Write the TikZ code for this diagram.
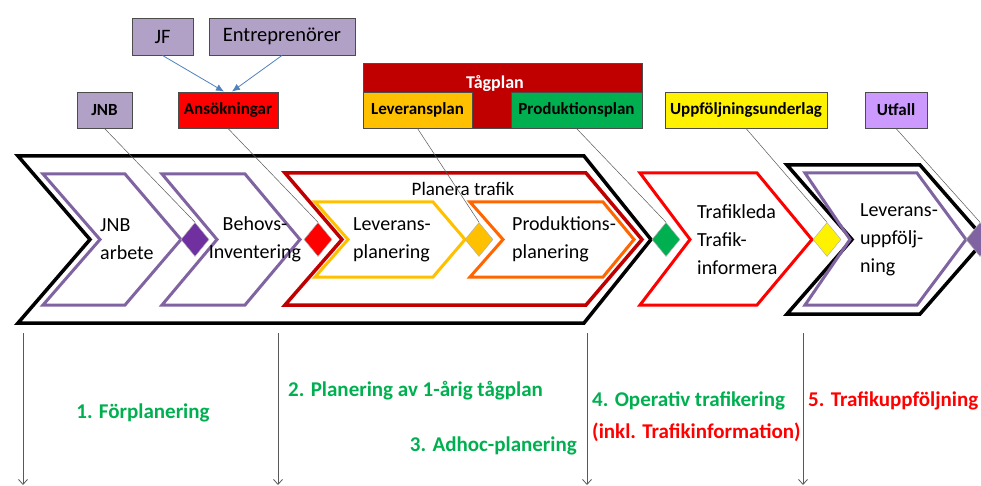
\documentclass[tikz,border=0pt]{standalone}
\usepackage{fontspec}
\setmainfont{Carlito}
\usetikzlibrary{shapes.geometric,arrows.meta}
\definecolor{boxpurple}{HTML}{B2A1C7}
\definecolor{linepurple}{HTML}{8064A2}
\definecolor{darkpurple}{HTML}{7030A0}
\definecolor{utfallpurple}{HTML}{CC99FF}
\definecolor{darkred}{HTML}{C00000}
\definecolor{amber}{HTML}{FFC000}
\definecolor{orangeline}{HTML}{FF6600}
\definecolor{prodgreen}{HTML}{00B050}
\definecolor{arrowblue}{HTML}{4F81BD}
\begin{document}
\begin{tikzpicture}[x=1pt,y=-1pt,
  topbox/.style={draw=black!70, line width=0.9pt, inner sep=0pt, minimum height=36pt, font=\fontsize{17}{19}\selectfont\bfseries},
  srcbox/.style={draw=black!70, line width=0.9pt, fill=boxpurple, inner sep=0pt, minimum height=37pt, font=\fontsize{20.5}{22}\selectfont},
  gem/.style={diamond, draw=black!30, line width=0.5pt, inner sep=0pt, minimum width=28pt, minimum height=34pt},
  link/.style={draw=black!65, line width=0.5pt},
  feed/.style={draw=arrowblue, line width=0.8pt, -{Latex[length=8pt,width=7pt]}},
  phase/.style={draw=black!65, line width=0.8pt, -{Straight Barb[length=5pt,width=9pt]}},
  steptext/.style={font=\fontsize{20}{28}\selectfont, inner sep=0pt, align=left},
  phasetext/.style={font=\fontsize{21}{24}\selectfont\bfseries, inner sep=0pt}]
\clip (0,0) rectangle (981,486);

% big process arrows
\draw[line width=3.5pt] (18,156) -- (584,156) -- (651,239.5) -- (584,323) -- (18,323) -- (90,239.5) -- cycle;
\draw[line width=3.5pt] (787,165) -- (920,165) -- (985,239.5) -- (920,314) -- (787,314) -- (852,239.5) -- cycle;

% steps
\draw[linepurple, line width=3pt] (43,174) -- (125,174) -- (181,239.5) -- (125,305) -- (43,305) -- (100,239.5) -- cycle;
\draw[linepurple, line width=3pt] (162,174) -- (245,174) -- (300,239.5) -- (245,305) -- (162,305) -- (217,239.5) -- cycle;
\draw[darkred, line width=3.5pt] (285,173) -- (586,173) -- (642,239.5) -- (586,305) -- (285,305) -- (342,239.5) -- cycle;
\draw[amber, line width=3pt] (315,202) -- (433,202) -- (465,239.5) -- (433,277) -- (315,277) -- (348,239.5) -- cycle;
\draw[orangeline, line width=3pt] (470,202) -- (603,202) -- (634,239.5) -- (603,277) -- (470,277) -- (503,239.5) -- cycle;
\draw[red, line width=3pt] (640,173) -- (757,173) -- (812,239.5) -- (757,305) -- (640,305) -- (690,239.5) -- cycle;
\draw[linepurple, line width=3pt] (805,173) -- (917,173) -- (966,239.5) -- (917,305) -- (805,305) -- (850,239.5) -- cycle;

\node[steptext, anchor=west] (jnbarb) at (100,239.5) {JNB\\arbete};
\node[steptext, align=center] (behov) at (255,239.5) {Behovs-\\Inventering};
\node[steptext, anchor=west] (levplan) at (353,239.5) {Leverans-\\planering};
\node[steptext, anchor=west] (prodplan) at (512,239.5) {Produktions-\\planering};
\node[steptext, anchor=west] (trafik) at (697,240) {Trafikleda\\Trafik-\\informera};
\node[steptext, anchor=west] (levupp) at (860,240) {Leverans-\\uppfölj-\\ning};
\node[font=\fontsize{19}{22}\selectfont, inner sep=0pt] (planera) at (463,189) {Planera trafik};

% inputs at the top
\node[srcbox, minimum width=61pt] (jf) at (162.5,36.5) {JF};
\node[srcbox, minimum width=146pt] (entr) at (282,36.5) {Entreprenörer};
\node[topbox, fill=boxpurple, minimum width=55pt] (jnb) at (104.5,110) {JNB};
\node[topbox, fill=red, minimum width=100pt] (ansok) at (228,110) {Ansökningar};
\node[topbox, fill=darkred, minimum width=279pt, minimum height=65pt] (tagplan) at (502.5,95.5) {};
\node[font=\fontsize{18}{20}\selectfont\bfseries, text=white, inner sep=0pt] (tagtext) at (495,84) {Tågplan};
\node[topbox, fill=amber, minimum width=109pt] (levinfo) at (417.5,110) {Leveransplan};
\node[topbox, fill=prodgreen, minimum width=131pt] (prodinfo) at (576.5,110) {Produktionsplan};
\node[topbox, fill=yellow, minimum width=162pt] (uppf) at (746,110) {Uppföljningsunderlag};
\node[topbox, fill=utfallpurple, minimum width=62pt] (utfall) at (896,110) {Utfall};

\draw[feed] (jf.south) -- ([xshift=-4pt]ansok.north);
\draw[feed] (entr.south) -- ([xshift=4pt]ansok.north);

% milestones
\node[gem, fill=darkpurple] (m1) at (195,239.5) {};
\node[gem, fill=red] (m2) at (318,239.5) {};
\node[gem, fill=amber] (m3) at (479,239.5) {};
\node[gem, fill=prodgreen] (m4) at (666,239.5) {};
\node[gem, fill=yellow] (m5) at (827,239.5) {};
\node[gem, fill=linepurple] (m6) at (980,239.5) {};

\draw[link] (jnb.south) -- (m1.north);
\draw[link] (ansok.south) -- (m2.north);
\draw[link] (levinfo.south) -- (m3.north);
\draw[link] (prodinfo.south) -- (m4.north);
\draw[link] (uppf.south) -- (m5.north);
\draw[link] (utfall.south) -- (m6.north);

% phases
\foreach \x/\n in {23/1,278/2,587/3,803/4} {
  \coordinate (ptop\n) at (\x,333);
  \coordinate (pbot\n) at (\x,485);
  \draw[phase] (ptop\n) -- (pbot\n);
}
\node[phasetext, text=prodgreen] (fas1) at (143,413) {1. Förplanering};
\node[phasetext, text=prodgreen, anchor=west] (fas2) at (288,391) {2. Planering av 1-årig tågplan};
\node[phasetext, text=prodgreen, anchor=east] (fas3) at (577,446) {3. Adhoc-planering};
\node[phasetext, text=prodgreen, anchor=west] (fas4) at (592,401) {4. Operativ trafikering};
\node[phasetext, text=red, anchor=west] (fas4b) at (592,432) {(inkl. Trafikinformation)};
\node[phasetext, text=red, anchor=west] (fas5) at (808,401) {5. Trafikuppföljning};
\end{tikzpicture}
\end{document}
